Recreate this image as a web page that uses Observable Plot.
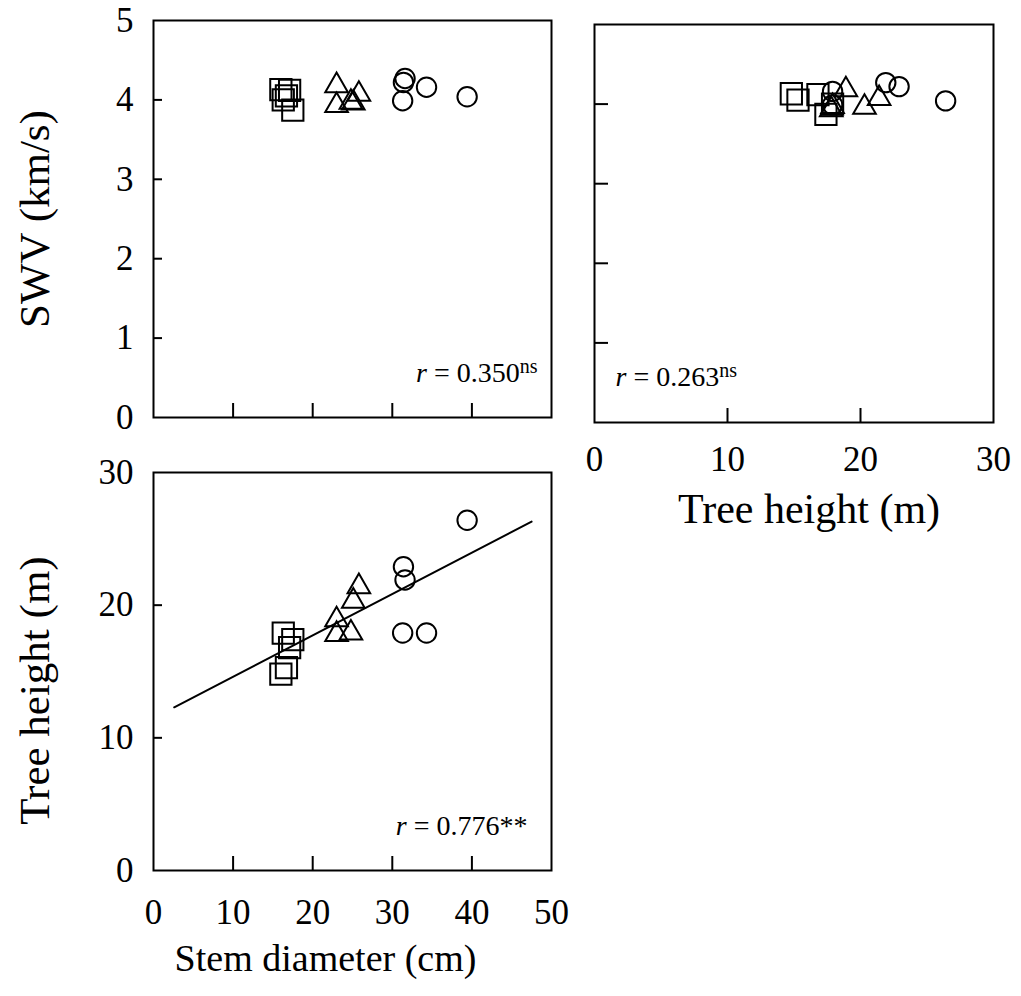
<!DOCTYPE html>
<html><head><meta charset="utf-8">
<script src="https://cdn.jsdelivr.net/npm/d3@7"></script>
<script src="https://cdn.jsdelivr.net/npm/@observablehq/plot@0.6"></script>
<style>
body{margin:0;background:#fff;}
#wrap{position:relative;width:1021px;height:996px;background:#fff;}
#wrap svg{position:absolute;}
</style></head><body><div id="wrap"></div>
<script>
// ---- data (one entry per tree) ----
const group    = ["square","square","square","square","square","triangle","triangle","triangle","triangle","triangle","circle","circle","circle","circle","circle"];
const diameter = [16.0,16.7,17.1,17.5,16.3, 23.0,23.0,25.8,25.1,24.8, 31.4,31.6,31.3,34.3,39.4];
const treeHeight = [14.8,15.3,16.8,17.4,17.9, 18.9,17.8,21.4,20.3,17.9, 22.9,21.9,17.9,17.9,26.4];
const swv      = [4.13,4.05,4.12,3.87,4.00, 4.18,3.93,4.07,3.96,3.97, 4.22,4.27,3.99,4.16,4.04];
// regression line of tree height on stem diameter (end points)
const fitDiameter = [2.6, 47.5];
const fitHeight   = [12.3, 26.3];
// ticks
const diameterTicks = [0,10,20,30,40,50];
const heightTicksX  = [0,10,20,30];
const swvTicks      = [0,1,2,3,4,5];
const heightTicksY  = [0,10,20,30];
// annotations
const rValues = ["0.350","0.263","0.776"];
const rSig    = ["ns","ns","**"];

const trees = group.map((g,i)=>({group:g, diameter:diameter[i], height:treeHeight[i], swv:swv[i]}));
const fit = fitDiameter.map((x,i)=>({diameter:x, height:fitHeight[i]}));

const FONT = "Liberation Serif, Times New Roman, serif";
const TICKFS = 35, ANNOFS = 28;
const symR = {square:12, triangle:8.4, circle:9.7};
const fmt = d => String(d);

function dots(xKey, yKey){
  return ["square","triangle","circle"].map(s =>
    Plot.dot(trees.filter(d=>d.group===s), {x:xKey, y:yKey, symbol:s, r:symR[s], stroke:"black", fill:"none", strokeWidth:2}));
}
function inner(ticks){ return ticks.slice(1,-1); }

function place(svg, left, top){
  svg.style.left = left+"px"; svg.style.top = top+"px";
  document.getElementById("wrap").appendChild(svg);
}
function annotate(svg, idx){
  svg.querySelectorAll("text").forEach(t=>{
    if (t.textContent === "ANNO"+idx){
      const sig = rSig[idx];
      const sup = sig === "ns" ? `<tspan dy="-0.42em" font-size="20">${sig}</tspan>` : sig;
      t.innerHTML = `<tspan font-style="italic">r</tspan> = ${rValues[idx]}${sup}`;
    }
  });
}

// Panel 1: SWV vs stem diameter
const p1 = Plot.plot({
  width:570, height:440, marginLeft:153, marginRight:19, marginTop:20, marginBottom:23,
  style:{fontFamily:FONT, background:"transparent", overflow:"visible", color:"black"},
  x:{domain:[0,50]}, y:{domain:[0,5]},
  marks:[
    Plot.frame({strokeWidth:2}),
    Plot.axisX(inner(diameterTicks), {tickSize:-14, strokeWidth:2, tickFormat:()=>"", label:null}),
    Plot.axisY(inner(swvTicks), {tickSize:-9, strokeWidth:2, tickFormat:()=>"", label:null}),
    Plot.axisY(swvTicks, {tickSize:0, tickPadding:20, fontSize:TICKFS, tickFormat:fmt, label:null}),
    Plot.text(["SWV (km/s)"], {frameAnchor:"left", dx:-118, rotate:-90, textAnchor:"middle", fontSize:43, text:d=>d}),
    ...dots("diameter","swv"),
    Plot.text(["ANNO0"], {frameAnchor:"bottom-right", dx:-14, dy:-36, textAnchor:"end", fontSize:ANNOFS, text:d=>d})
  ]
});
annotate(p1,0);
place(p1,0,0);

// Panel 2: SWV vs tree height
const p2 = Plot.plot({
  width:451, height:560, marginLeft:24, marginRight:28, marginTop:24, marginBottom:138,
  style:{fontFamily:FONT, background:"transparent", overflow:"visible", color:"black"},
  x:{domain:[0,30]}, y:{domain:[0,5]},
  marks:[
    Plot.frame({strokeWidth:2}),
    Plot.axisX(inner(heightTicksX), {tickSize:-14, strokeWidth:2, tickFormat:()=>"", label:null}),
    Plot.axisX(heightTicksX, {tickSize:0, tickPadding:24, fontSize:TICKFS, tickFormat:fmt, label:null}),
    Plot.axisY(inner(swvTicks), {tickSize:-14, strokeWidth:2, tickFormat:()=>"", label:null}),
    Plot.text(["Tree height (m)"], {frameAnchor:"bottom", dx:15, dy:100, textAnchor:"middle", fontSize:42, text:d=>d}),
    ...dots("height","swv"),
    Plot.text(["ANNO1"], {frameAnchor:"bottom-left", dx:21, dy:-37, textAnchor:"start", fontSize:ANNOFS, text:d=>d})
  ]
});
annotate(p2,1);
place(p2,570,0);

// Panel 3: tree height vs stem diameter
const p3 = Plot.plot({
  width:570, height:556, marginLeft:153, marginRight:19, marginTop:32, marginBottom:126,
  style:{fontFamily:FONT, background:"transparent", overflow:"visible", color:"black"},
  x:{domain:[0,50]}, y:{domain:[0,30]},
  marks:[
    Plot.frame({strokeWidth:2}),
    Plot.axisX(inner(diameterTicks), {tickSize:-14, strokeWidth:2, tickFormat:()=>"", label:null}),
    Plot.axisX(diameterTicks, {tickSize:0, tickPadding:29, fontSize:TICKFS, tickFormat:fmt, label:null}),
    Plot.axisY(inner(heightTicksY), {tickSize:-9, strokeWidth:2, tickFormat:()=>"", label:null}),
    Plot.axisY(heightTicksY, {tickSize:0, tickPadding:20, fontSize:TICKFS, tickFormat:fmt, label:null}),
    Plot.text(["Tree height (m)"], {frameAnchor:"left", dx:-118, dy:19, rotate:-90, textAnchor:"middle", fontSize:43, text:d=>d}),
    Plot.text(["Stem diameter (cm)"], {frameAnchor:"bottom", dx:-27, dy:100, textAnchor:"middle", fontSize:38, text:d=>d}),
    Plot.line(fit, {x:"diameter", y:"height", stroke:"black", strokeWidth:2}),
    ...dots("diameter","height"),
    Plot.text(["ANNO2"], {frameAnchor:"bottom-right", dx:-24, dy:-36, textAnchor:"end", fontSize:ANNOFS, text:d=>d})
  ]
});
annotate(p3,2);
place(p3,0,440);
</script></body></html>
